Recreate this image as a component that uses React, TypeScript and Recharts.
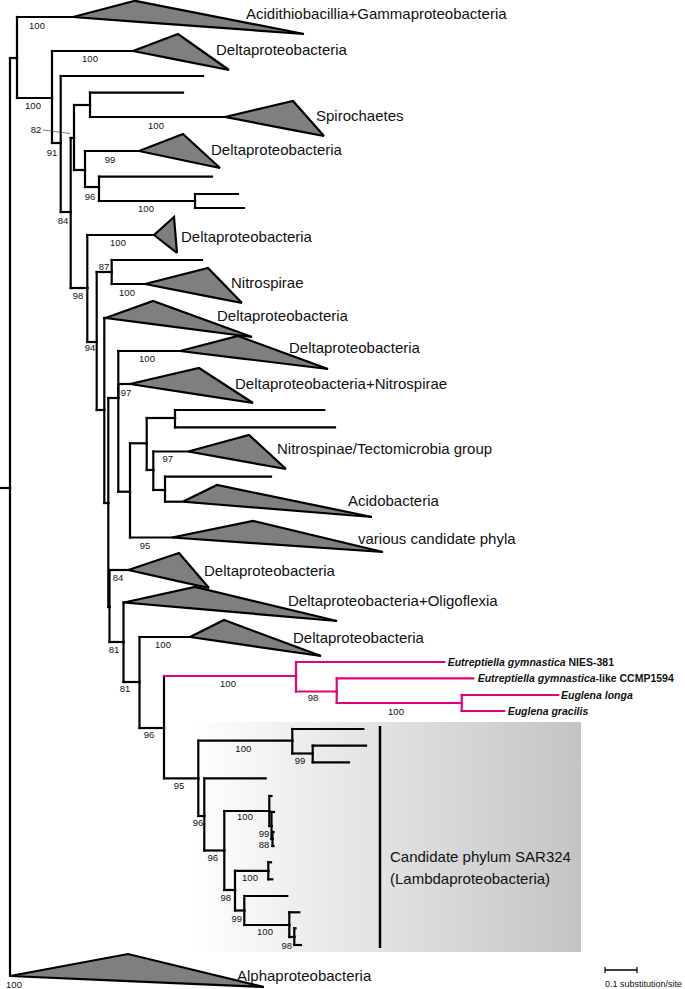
import React from 'react';
import { ComposedChart, XAxis, YAxis, ReferenceLine, ReferenceArea, Area, Scatter } from 'recharts';

// Tree: [node, parent, depth (tree units; 32 units = 0.1 substitution/site), row]
const treeNodes: [string, string, number, number][] = [
  ['base', '', 0, 488],
  ['root', 'base', 10, 488],
  ['N1', 'root', 17, 58],
  ['cAlpha', 'root', 10, 976],
  ['cAcidi', 'N1', 73, 17],
  ['N2', 'N1', 52, 98],
  ['cDelta1', 'N2', 133, 51],
  ['N3', 'N2', 60.7, 143],
  ['t1', 'N3', 203, 76],
  ['N5', 'N3', 70.7, 212],
  ['N6', 'N5', 74, 138],
  ['N8', 'N6', 90, 105],
  ['t2', 'N8', 183, 92.7],
  ['cSpiro', 'N8', 225, 117],
  ['N9', 'N6', 85, 170],
  ['cDelta2', 'N9', 139, 151],
  ['N10', 'N9', 99, 187],
  ['t3', 'N10', 212, 176.7],
  ['N11', 'N10', 195, 201],
  ['t4', 'N11', 238, 194],
  ['t5', 'N11', 244, 208],
  ['N7', 'N5', 87.3, 288],
  ['cDelta3', 'N7', 154, 235],
  ['N12', 'N7', 96.7, 342],
  ['N13', 'N12', 111.7, 272],
  ['t6', 'N13', 202, 260],
  ['cNitrospirae', 'N13', 145, 284],
  ['N14', 'N12', 104.3, 410],
  ['cDelta4', 'N14', 105.5, 318],
  ['N15', 'N14', 108.3, 503],
  ['N16', 'N15', 118.3, 398],
  ['cDelta5', 'N16', 180, 351],
  ['cDeltaNitro', 'N16', 130, 384],
  ['N18', 'N16', 130, 491.7],
  ['N17', 'N18', 146.7, 443.3],
  ['NA', 'N17', 175, 418],
  ['t7', 'NA', 324.3, 410],
  ['t8', 'NA', 335, 427.3],
  ['NB', 'N17', 153.3, 470],
  ['cNitrospinae', 'NB', 188.3, 451.5],
  ['NC', 'NB', 165, 490],
  ['t9', 'NC', 271, 476.7],
  ['cAcido', 'NC', 182.7, 501.7],
  ['cVarious', 'N18', 172, 537.5],
  ['N19', 'N15', 109.5, 607],
  ['cDelta6', 'N19', 128.3, 570],
  ['N20', 'N19', 123.5, 642],
  ['cDeltaOligo', 'N20', 124, 602.5],
  ['N21', 'N20', 139.5, 682],
  ['cDelta7', 'N21', 190, 637],
  ['N22', 'N21', 164, 728],
  ['M1', 'N22', 296, 676],
  ['e1', 'M1', 444.3, 662],
  ['M2', 'M1', 336.7, 691.5],
  ['e2', 'M2', 473.3, 678.3],
  ['M3', 'M2', 461.7, 703],
  ['e3', 'M3', 558.3, 695],
  ['e4', 'M3', 504.3, 711],
  ['N23', 'N22', 198.3, 778.3],
  ['S1', 'N23', 292.3, 740.7],
  ['t10', 'S1', 363.3, 729],
  ['S2', 'S1', 312.7, 753.5],
  ['t11', 'S2', 366, 745.7],
  ['t12', 'S2', 349, 762.3],
  ['N24', 'N23', 204.3, 816],
  ['t13', 'N24', 265.7, 778.3],
  ['N25', 'N24', 224.3, 850.5],
  ['S3', 'N25', 269.3, 811],
  ['t14', 'S3', 271.5, 796],
  ['S4', 'S3', 271.5, 826],
  ['t15', 'S4', 274, 812],
  ['S5', 'S4', 272.5, 839],
  ['t16', 'S5', 273.5, 832],
  ['t17', 'S5', 273.5, 846],
  ['N26', 'N25', 235, 890],
  ['S6', 'N26', 268.3, 870.8],
  ['t18', 'S6', 271, 862.3],
  ['t19', 'S6', 272.3, 879.3],
  ['N27', 'N26', 244.3, 910.5],
  ['t20', 'N27', 287.3, 896],
  ['S7', 'N27', 289.3, 925],
  ['t21', 'S7', 299.3, 912.3],
  ['S8', 'S7', 294.3, 937],
  ['t22', 'S8', 295.5, 928.3],
  ['t23', 'S8', 301, 945],
];

// Euglenid lineage (highlighted)
const euglenidNodes = ['M1', 'e1', 'M2', 'e2', 'M3', 'e3', 'e4'];

// Collapsed clades (triangles)
const cladeNodes = ['cAcidi', 'cDelta1', 'cSpiro', 'cDelta2', 'cDelta3', 'cNitrospirae', 'cDelta4', 'cDelta5', 'cDeltaNitro', 'cNitrospinae', 'cAcido', 'cVarious', 'cDelta6', 'cDeltaOligo', 'cDelta7', 'cAlpha'];
const cladeNames = [
  'Acidithiobacillia+Gammaproteobacteria', 'Deltaproteobacteria', 'Spirochaetes', 'Deltaproteobacteria',
  'Deltaproteobacteria', 'Nitrospirae', 'Deltaproteobacteria', 'Deltaproteobacteria',
  'Deltaproteobacteria+Nitrospirae', 'Nitrospinae/Tectomicrobia group', 'Acidobacteria', 'various candidate phyla',
  'Deltaproteobacteria', 'Deltaproteobacteria+Oligoflexia', 'Deltaproteobacteria', 'Alphaproteobacteria',
];
const cladeTopDepth = [135, 178, 293, 183, 174, 208, 153, 238, 199, 249, 217, 253, 179, 195, 224, 128];
const cladeTopRow = [0.8, 34, 101, 134, 217, 268, 301, 336, 368, 435, 485, 521, 553, 587, 620, 954];
const cladeBottomDepth = [304, 229, 324, 220, 177, 242, 252, 328, 253, 286, 372, 383, 209, 337, 321, 264];
const cladeBottomRow = [34, 70, 136, 168, 253, 303, 337, 369, 403, 469, 517, 552, 588, 621, 656, 987];
const cladeLabelDepth = [246, 216, 316, 211, 181, 231, 217, 289, 235, 277, 348, 358, 204, 288, 293, 237];
const cladeLabelRow = [13, 49, 115, 149, 236, 282, 315, 347, 383, 448, 500, 538, 570, 600, 637, 975];

// Bootstrap support values
const supportValues = [100, 100, 100, 82, 91, 100, 99, 96, 100, 84, 100, 98, 87, 100, 94, 100, 97, 97, 95, 84, 81, 100, 81, 96, 100, 98, 100, 95, 100, 99, 96, 100, 99, 88, 96, 100, 98, 99, 100, 98, 100];
const supportDepth = [37, 90, 33, 36, 52, 156, 110, 90, 146, 63, 118, 78, 104, 127, 90, 147, 126, 167.7, 145, 118, 114, 163, 125, 149, 228, 313, 396, 179, 243.3, 300, 198, 245, 264, 264, 212.7, 250, 225.7, 236.7, 265, 286.7, 14];
const supportRow = [25, 58, 105, 129, 152, 125, 159, 196, 208, 220, 242, 295, 266, 292, 347, 358, 392, 458, 545, 577, 649, 644, 688, 734, 683, 697.7, 711, 785, 748.3, 760, 822.7, 816.7, 833, 844, 857.3, 877.7, 897.7, 918.3, 931.7, 945, 984];

// Euglenid taxa
const taxonItalic = ['Eutreptiella gymnastica', 'Eutreptiella gymnastica', 'Euglena longa', 'Euglena gracilis'];
const taxonSuffix = [' NIES-381', '-like CCMP1594', '', ''];
const taxonDepth = [447.7, 477.7, 561, 507.7];
const taxonRow = [662, 678.3, 695, 711];

// SAR324 box
const sarLabel = ['Candidate phylum SAR324', '(Lambdaproteobacteria)'];
const sarLabelDepth = [390, 390];
const sarLabelRow = [856, 878];
const sarBox = { x1: 188, x2: 581, y1: 722, y2: 952 };
const sarBar = { x: 380, y1: 726, y2: 948 };

// Scale bar: 0.1 substitution/site
const scaleBar = { x1: 605, x2: 637, y: 970, text: '0.1 substitution/site', textRow: 984 };

const FONT = '"Liberation Sans", Arial, Helvetica, sans-serif';
const MAGENTA = '#e5007e';

type N = { id: string; parent: string; x: number; y: number };
const nodeMap: Record<string, N> = {};
treeNodes.forEach(([id, parent, x, y]) => { nodeMap[id] = { id, parent, x, y }; });

const verticalSegs: { key: string; seg: { x: number; y: number }[]; color: string }[] = [];
const horizontalSegs: { key: string; seg: { x: number; y: number }[]; color: string }[] = [];
treeNodes.forEach(([id, parent]) => {
  const p = nodeMap[parent];
  if (!p) return;
  const n = nodeMap[id];
  if (Math.abs(p.y - n.y) > 0.01) {
    verticalSegs.push({ key: 'v' + id, seg: [{ x: p.x, y: p.y }, { x: p.x, y: n.y }], color: euglenidNodes.includes(parent) ? MAGENTA : '#000' });
  }
  if (Math.abs(p.x - n.x) > 0.01) {
    horizontalSegs.push({ key: 'h' + id, seg: [{ x: p.x, y: n.y }, { x: n.x, y: n.y }], color: euglenidNodes.includes(id) ? MAGENTA : '#000' });
  }
});
horizontalSegs.sort((a, b) => (a.color === MAGENTA ? 1 : 0) - (b.color === MAGENTA ? 1 : 0));

const triangles = cladeNodes.map((id, i) => {
  const a = nodeMap[id];
  const tx = cladeTopDepth[i];
  const ty = cladeTopRow[i];
  const bx = cladeBottomDepth[i];
  const by = cladeBottomRow[i];
  const lower = a.y + ((by - a.y) * (tx - a.x)) / (bx - a.x);
  return [
    { x: a.x, r: [a.y, a.y] },
    { x: tx, r: [lower, ty] },
    { x: bx, r: [by, by] },
  ];
});

const cladeLabelData = cladeNames.map((name, i) => ({ x: cladeLabelDepth[i], y: cladeLabelRow[i], name }));
const supportData = supportValues.map((v, i) => ({ x: supportDepth[i], y: supportRow[i], name: String(v) }));
const taxonData = taxonItalic.map((t, i) => ({ x: taxonDepth[i], y: taxonRow[i], name: t, suffix: taxonSuffix[i] }));
const sarData = sarLabel.map((t, i) => ({ x: sarLabelDepth[i], y: sarLabelRow[i], name: t }));
const scaleData = [{ x: scaleBar.x1, y: scaleBar.textRow, name: scaleBar.text }];

const makeText = (size: number, anchor: 'start' | 'middle') => (props: any) => {
  const { cx, cy, payload } = props;
  if (cx == null || cy == null) return <g />;
  return (
    <text x={cx} y={cy} fontFamily={FONT} fontSize={size} textAnchor={anchor} dominantBaseline="central" fill="#111">
      {payload.name}
    </text>
  );
};

const taxonShape = (props: any) => {
  const { cx, cy, payload } = props;
  if (cx == null || cy == null) return <g />;
  return (
    <text x={cx} y={cy} fontFamily={FONT} fontSize={10.5} fontWeight="bold" dominantBaseline="central" fill="#111">
      <tspan fontStyle="italic">{payload.name}</tspan>
      {payload.suffix ? <tspan>{payload.suffix}</tspan> : null}
    </text>
  );
};

export default function App() {
  return (
    <div style={{ position: 'absolute', left: 0, top: 0, width: 685, height: 989, background: '#fff' }}>
      <ComposedChart width={685} height={989} margin={{ top: 0, right: 0, bottom: 0, left: 0 }}>
        <defs>
          <linearGradient id="sarGrad" x1="0" y1="0" x2="1" y2="0">
            <stop offset="0%" stopColor="#ffffff" />
            <stop offset="100%" stopColor="#c4c4c4" />
          </linearGradient>
        </defs>
        <XAxis type="number" dataKey="x" domain={[0, 685]} allowDataOverflow hide />
        <YAxis type="number" dataKey="y" domain={[0, 989]} allowDataOverflow hide reversed />
        <ReferenceArea x1={sarBox.x1} x2={sarBox.x2} y1={sarBox.y1} y2={sarBox.y2} fill="url(#sarGrad)" fillOpacity={1} stroke="none" ifOverflow="visible" />
        <ReferenceLine segment={[{ x: sarBar.x, y: sarBar.y1 }, { x: sarBar.x, y: sarBar.y2 }]} stroke="#000" strokeWidth={2.5} ifOverflow="visible" />
        {triangles.map((d, i) => (
          <Area
            key={'tri' + i}
            data={d}
            dataKey="r"
            type="linear"
            fill="#7f7f7f"
            fillOpacity={1}
            stroke="#000"
            strokeWidth={2.2}
            dot={false}
            activeDot={false}
            isAnimationActive={false}
          />
        ))}
        {verticalSegs.map((s) => (
          <ReferenceLine key={s.key} segment={s.seg} stroke={s.color} strokeWidth={2.2} strokeLinecap="square" ifOverflow="visible" />
        ))}
        {horizontalSegs.map((s) => (
          <ReferenceLine key={s.key} segment={s.seg} stroke={s.color} strokeWidth={2.2} strokeLinecap="square" ifOverflow="visible" />
        ))}
        <ReferenceLine segment={[{ x: 43, y: 130 }, { x: 70, y: 133.5 }]} stroke="#444" strokeWidth={0.7} ifOverflow="visible" />
        <ReferenceLine segment={[{ x: scaleBar.x1, y: scaleBar.y }, { x: scaleBar.x2, y: scaleBar.y }]} stroke="#000" strokeWidth={1.5} ifOverflow="visible" />
        <ReferenceLine segment={[{ x: scaleBar.x1, y: scaleBar.y - 3 }, { x: scaleBar.x1, y: scaleBar.y + 3 }]} stroke="#000" strokeWidth={1.2} ifOverflow="visible" />
        <ReferenceLine segment={[{ x: scaleBar.x2, y: scaleBar.y - 3 }, { x: scaleBar.x2, y: scaleBar.y + 3 }]} stroke="#000" strokeWidth={1.2} ifOverflow="visible" />
        <Scatter data={cladeLabelData} dataKey="y" shape={makeText(15, 'start')} isAnimationActive={false} />
        <Scatter data={supportData} dataKey="y" shape={makeText(9.5, 'middle')} isAnimationActive={false} />
        <Scatter data={taxonData} dataKey="y" shape={taxonShape} isAnimationActive={false} />
        <Scatter data={sarData} dataKey="y" shape={makeText(15, 'start')} isAnimationActive={false} />
        <Scatter data={scaleData} dataKey="y" shape={makeText(9, 'start')} isAnimationActive={false} />
      </ComposedChart>
    </div>
  );
}
